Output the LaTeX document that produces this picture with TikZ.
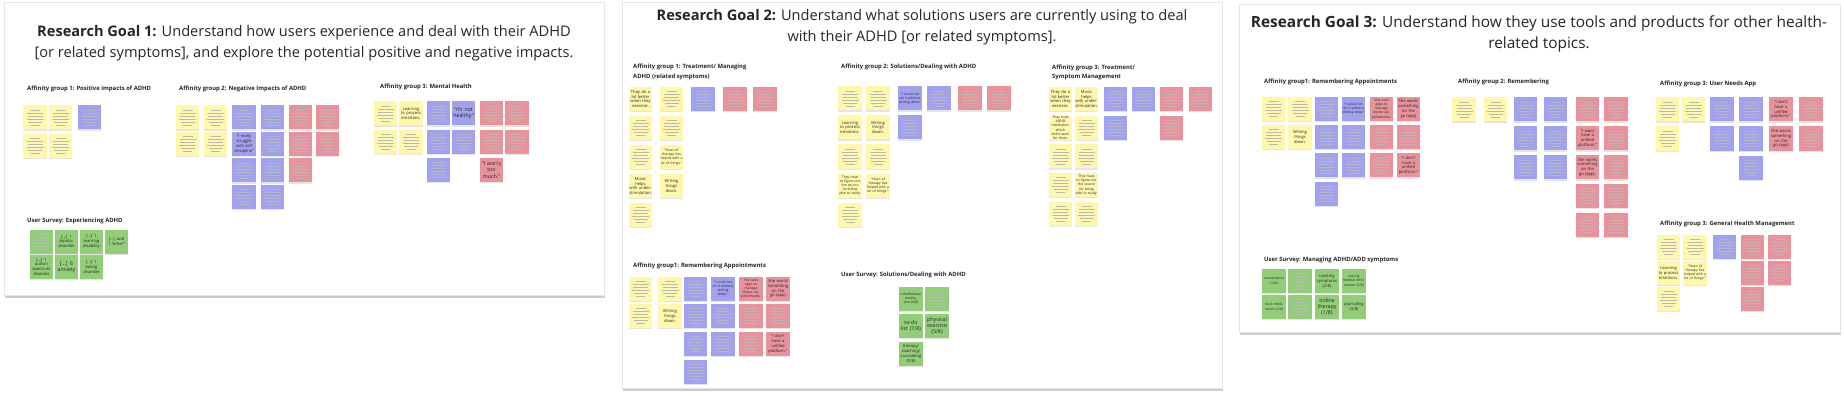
\documentclass[tikz,border=0pt]{standalone}
\usepackage{fontspec}
\setmainfont{Open Sans}
\usetikzlibrary{shadows}
\definecolor{noteYellow}{RGB}{255, 247, 172}
\definecolor{noteBlue}{RGB}{160, 162, 240}
\definecolor{notePink}{RGB}{232, 146, 156}
\definecolor{noteGreen}{RGB}{146, 205, 120}

\begin{document}
\begin{tikzpicture}[
    x=1pt, y=-1pt,
    board/.style={draw=black!10, fill=white, inner sep=0pt, outer sep=0pt,
        drop shadow={shadow xshift=1pt, shadow yshift=-2.5pt, opacity=.4}},
    goal/.style={align=center, text=black!85,
        font=\fontsize{14.6}{20.5}\selectfont},
    head/.style={anchor=west, align=left, inner sep=0pt, text=black!85,
        font=\bfseries\fontsize{5.9}{9.6}\selectfont},
    note/.style={minimum width=23.5pt, minimum height=24pt, inner sep=.5pt,
        text width=22.5pt, align=center, text=black!85,
        font=\fontsize{4.1}{4.9}\selectfont,
        drop shadow={shadow xshift=0pt, shadow yshift=-1.2pt, opacity=.2}},
    bigtext/.style={font=\fontsize{5.3}{6.3}\selectfont},
    smalltext/.style={font=\fontsize{3.4}{4.1}\selectfont},
    blurb/.style={note, path picture={
        \foreach \w/\h in {5/7.5, 8/4.5, 7.5/1.5, 8.5/-1.5, 7/-4.5, 4.5/-7.5}
            \draw[black!28, line width=.45pt]
                ([xshift=-\w pt, yshift=\h pt]path picture bounding box.center)
                -- ([xshift=\w pt, yshift=\h pt]path picture bounding box.center);
    }},
]

% ---- canvas ----
\useasboundingbox (0,0) rectangle (1844,401);
\fill[white] (0,0) rectangle (1844,401);

% ======== board 1 ========
\node[board, minimum width=600pt, minimum height=293pt] (board1) at (304,148.5) {};
\node[goal] (goal1) at (304,43) {\textbf{Research Goal 1:} Understand how users experience and deal with their ADHD\\{}[or related symptoms], and explore the potential positive and negative impacts.};

% affinity group 1
\node[head] (b1g1) at (27,89) {Affinity group 1: Positive impacts of ADHD};
\def\yo{117.5}\def\dy{28.5}
\foreach \c/\x/\clr/\rows in {1/35/noteYellow/{1,2}, 2/60.5/noteYellow/{1,2},
        3/89.5/noteBlue/{1}}
    \foreach \r in \rows
        \node[blurb, fill=\clr] (b1g1-\c-\r) at (\x, {\yo+(\r-1)*\dy}) {};

% affinity group 2
\node[head] (b1g2) at (179,89) {Affinity group 2: Negative Impacts of ADHD};
\def\yo{117.5}\def\dy{26.4}
\foreach \c/\x/\clr/\rows in {1/187.5/noteYellow/{1,2}, 2/215.5/noteYellow/{1,2},
        3/244/noteBlue/{1,3,4}, 4/272.5/noteBlue/{1,2,3,4},
        5/300.5/notePink/{1,2,3}, 6/327.5/notePink/{1,2}}
    \foreach \r in \rows
        \node[blurb, fill=\clr] (b1g2-\c-\r) at (\x, {\yo+(\r-1)*\dy}) {};
\node[note, fill=noteBlue] (b1g2-3-2) at (244, \yo+\dy)
    {“I really struggle with self discipline”};

% affinity group 3
\node[head] (b1g3) at (380,87) {Affinity group 3: Mental Health};
\def\yo{113.5}\def\dy{28.2}
\foreach \c/\x/\clr/\rows in {1/385.5/noteYellow/{1,2}, 2/411/noteYellow/{2},
        3/438.5/noteBlue/{1,2,3}, 4/463.5/noteBlue/{2},
        5/491.5/notePink/{1,2}, 6/517/notePink/{1,2}}
    \foreach \r in \rows
        \node[blurb, fill=\clr] (b1g3-\c-\r) at (\x, {\yo+(\r-1)*\dy}) {};
\node[note, fill=noteYellow] (b1g3-2-1) at (411, \yo) {Learning\\to process\\emotions.};
\node[note, bigtext, fill=noteBlue] (b1g3-4-1) at (463.5, \yo) {“It's not\\healthy”};
\node[note, bigtext, fill=notePink] (b1g3-5-3) at (491.5, \yo+2*\dy) {“I worry\\too\\much.”};

% user survey
\node[head] (b1s) at (27,221) {User Survey: Experiencing ADHD};
\def\yo{241.5}\def\dy{25.5}
\node[blurb, fill=noteGreen] (b1s-1-1) at (41.5, \yo) {};
\node[note, fill=noteGreen] (b1s-2-1) at (66.5, \yo) {[...] 1\\bipolar\\disorder};
\node[note, fill=noteGreen] (b1s-3-1) at (91.5, \yo) {[...] 1\\learning\\disability};
\node[note, fill=noteGreen] (b1s-4-1) at (116.5, \yo) {[...] and\\1 “other”};
\node[note, fill=noteGreen] (b1s-1-2) at (41.5, \yo+\dy) {[...] 1\\autism\\spectrum\\disorder};
\node[note, bigtext, fill=noteGreen] (b1s-2-2) at (66.5, \yo+\dy) {[...] 6\\anxiety};
\node[note, fill=noteGreen] (b1s-3-2) at (91.5, \yo+\dy) {[...] 1\\eating\\disorder};

% ======== board 2 ========
\node[board, minimum width=600pt, minimum height=386pt] (board2) at (922,195) {};
\node[goal] (goal2) at (922,27) {\textbf{Research Goal 2:} Understand what solutions users are currently using to deal\\with their ADHD [or related symptoms].};

% affinity group 1
\node[head] (b2g1) at (633,72) {Affinity group 1: Treatment/ Managing\\ADHD (related symptoms)};
\def\yo{99}\def\dy{29}
\foreach \c/\x/\clr/\rows in {1/640.5/noteYellow/{2,3,5}, 2/671.5/noteYellow/{1,2},
        3/703/noteBlue/{1}, 4/735/notePink/{1}, 5/765/notePink/{1}}
    \foreach \r in \rows
        \node[blurb, fill=\clr] (b2g1-\c-\r) at (\x, {\yo+(\r-1)*\dy}) {};
\node[note, fill=noteYellow] (b2g1-1-1) at (640.5, \yo) {They do a\\lot better\\when they\\exercise.};
\node[note, fill=noteYellow] (b2g1-1-4) at (640.5, \yo+3*\dy) {Music helps\\with under-\\stimulation.};
\node[note, smalltext, fill=noteYellow] (b2g1-2-3) at (671.5, \yo+2*\dy)
    {“Years of therapy has helped with a lot of things.”};
\node[note, fill=noteYellow] (b2g1-2-4) at (671.5, \yo+3*\dy) {Writing\\things\\down.};

% affinity group 2
\node[head] (b2g2) at (841,67) {Affinity group 2: Solutions/Dealing with ADHD};
\def\yo{98.5}\def\dy{29}
\foreach \c/\x/\clr/\rows in {1/850/noteYellow/{1,3,5}, 2/878/noteYellow/{1,3},
        3/910/noteBlue/{2}, 4/939/noteBlue/{1},
        5/970/notePink/{1}, 6/999/notePink/{1}}
    \foreach \r in \rows
        \node[blurb, fill=\clr] (b2g2-\c-\r) at (\x, {\yo+(\r-1)*\dy}) {};
\node[note, fill=noteYellow] (b2g2-1-2) at (850, \yo+\dy) {Learning\\to process\\emotions.};
\node[note, fill=noteYellow] (b2g2-2-2) at (878, \yo+\dy) {Writing\\things\\down.};
\node[note, smalltext, fill=noteBlue] (b2g2-3-1) at (910, \yo)
    {“I could not do it without writing down”};
\node[note, smalltext, fill=noteYellow] (b2g2-1-4) at (850, \yo+3*\dy)
    {They have to figure out the source for being able to study.};
\node[note, smalltext, fill=noteYellow] (b2g2-2-4) at (878, \yo+3*\dy)
    {“Years of therapy has helped with a lot of things.”};

% affinity group 3
\node[head] (b2g3) at (1052,72.5) {Affinity group 3: Treatment/\\Symptom Management};
\def\yo{99}\def\dy{28.7}
\foreach \c/\x/\clr/\rows in {1/1060.5/noteYellow/{3,4,5}, 2/1086.5/noteYellow/{2,3,5},
        3/1115.5/noteBlue/{1,2}, 4/1143.5/noteBlue/{1},
        5/1171.5/notePink/{1,2}, 6/1200.5/notePink/{1}}
    \foreach \r in \rows
        \node[blurb, fill=\clr] (b2g3-\c-\r) at (\x, {\yo+(\r-1)*\dy}) {};
\node[note, fill=noteYellow] (b2g3-1-1) at (1060.5, \yo) {They do a\\lot better\\when they\\exercise.};
\node[note, fill=noteYellow] (b2g3-2-1) at (1086.5, \yo) {Music helps\\with under-\\stimulation.};
\node[note, smalltext, fill=noteYellow] (b2g3-1-2) at (1060.5, \yo+\dy)
    {They tried ADHD medication which didn't work for them.};
\node[note, smalltext, fill=noteYellow] (b2g3-2-4) at (1086.5, \yo+3*\dy)
    {They have to figure out the source for being able to study.};

% affinity group 1, second row
\node[head] (b2g4) at (633,266) {Affinity group1: Remembering Appointments};
\def\yo{288.5}\def\dy{27.7}
\foreach \c/\x/\clr/\rows in {1/640.5/noteYellow/{1,2}, 2/670/noteYellow/{1},
        3/695.5/noteBlue/{1,2,3,4}, 4/723/noteBlue/{2,3},
        5/751/notePink/{2,3}, 6/778/notePink/{2}}
    \foreach \r in \rows
        \node[blurb, fill=\clr] (b2g4-\c-\r) at (\x, {\yo+(\r-1)*\dy}) {};
\node[note, fill=noteYellow] (b2g4-2-2) at (670, \yo+\dy) {Writing\\things\\down.};
\node[note, smalltext, fill=noteBlue] (b2g4-4-1) at (723, \yo)
    {“I could not do it without writing down.”};
\node[note, smalltext, fill=notePink] (b2g4-5-1) at (751, \yo)
    {She uses apps to manage doctor appointments.};
\node[note, fill=notePink] (b2g4-6-1) at (778, \yo) {She wants something on the go (app)};
\node[note, fill=notePink] (b2g4-6-3) at (778, \yo+2*\dy) {“I don't have a unified platform.”};

% user survey
\node[head] (b2s) at (841,275) {User Survey: Solutions/Dealing with ADHD};
\def\yo{298.5}\def\dy{27.5}
\node[blurb, fill=noteGreen] (b2s-2-1) at (937, \yo) {};
\node[note, smalltext, fill=noteGreen] (b2s-1-1) at (911, \yo) {mindfulness/ meditation (4/8)};
\node[note, bigtext, fill=noteGreen] (b2s-1-2) at (911, \yo+\dy) {to-do\\list (7/8)};
\node[note, bigtext, fill=noteGreen] (b2s-2-2) at (937, \yo+\dy) {physical\\exercise\\(5/8)};
\node[note, fill=noteGreen] (b2s-1-3) at (911, \yo+2*\dy) {therapy/ coaching/ counseling (5/8)};

% ======== board 3 ========
\node[board, minimum width=601pt, minimum height=328pt] (board3) at (1539.5,168) {};
\node[goal, font=\fontsize{15.4}{20.5}\selectfont] (goal3) at (1539,34) {\textbf{Research Goal 3:} Understand how they use tools and products for other health-\\related topics.};

% affinity group 1
\node[head] (b3g1) at (1264,82) {Affinity group1: Remembering Appointments};
\def\yo{109}\def\dy{28.2}
\foreach \c/\x/\clr/\rows in {1/1273.5/noteYellow/{1,2}, 2/1300/noteYellow/{1},
        3/1326.5/noteBlue/{1,2,3,4}, 4/1353.5/noteBlue/{2,3},
        5/1381.5/notePink/{2,3}, 6/1408.5/notePink/{2}}
    \foreach \r in \rows
        \node[blurb, fill=\clr] (b3g1-\c-\r) at (\x, {\yo+(\r-1)*\dy}) {};
\node[note, fill=noteYellow] (b3g1-2-2) at (1300, \yo+\dy) {Writing\\things\\down.};
\node[note, smalltext, fill=noteBlue] (b3g1-4-1) at (1353.5, \yo)
    {“I could not do it without writing down”};
\node[note, smalltext, fill=notePink] (b3g1-5-1) at (1381.5, \yo)
    {She uses apps to manage doctor appointments.};
\node[note, fill=notePink] (b3g1-6-1) at (1408.5, \yo) {She wants something on the go (app)};
\node[note, fill=notePink] (b3g1-6-3) at (1408.5, \yo+2*\dy) {“I don't have a unified platform.”};

% affinity group 2
\node[head] (b3g2) at (1458,82) {Affinity group 2: Remembering};
\def\yo{109.5}\def\dy{28.9}
\foreach \c/\x/\clr/\rows in {1/1464/noteYellow/{1}, 2/1495.5/noteYellow/{1},
        3/1525.5/noteBlue/{1,2,3}, 4/1555.5/noteBlue/{1,2,3},
        5/1587.5/notePink/{1,4,5}, 6/1616/notePink/{1,2,3,4,5}}
    \foreach \r in \rows
        \node[blurb, fill=\clr] (b3g2-\c-\r) at (\x, {\yo+(\r-1)*\dy}) {};
\node[note, fill=notePink] (b3g2-5-2) at (1587.5, \yo+\dy) {“I want have a unified platform.”};
\node[note, fill=notePink] (b3g2-5-3) at (1587.5, \yo+2*\dy) {She wants something on the go (app).};

% affinity group 3
\node[head] (b3g3) at (1660,84) {Affinity group 3: User Needs App};
\def\yo{109.5}\def\dy{29}
\foreach \c/\x/\clr/\rows in {1/1667.5/noteYellow/{1,2}, 2/1693.5/noteYellow/{1},
        3/1722/noteBlue/{1,2}, 4/1751/noteBlue/{1,2,3}, 6/1811/notePink/{1,2}}
    \foreach \r in \rows
        \node[blurb, fill=\clr] (b3g3-\c-\r) at (\x, {\yo+(\r-1)*\dy}) {};
\node[note, fill=notePink] (b3g3-5-1) at (1781, \yo) {“I don't have a unified platform.”};
\node[note, fill=notePink] (b3g3-5-2) at (1781, \yo+\dy) {She wants something on the go (app)};

% affinity group 3, general health
\node[head] (b3g4) at (1660,224) {Affinity group 3: General Health Management};
\def\yo{246.5}\def\dy{26.3}
\foreach \c/\x/\clr/\rows in {1/1668.5/noteYellow/{1,3}, 2/1695/noteYellow/{1},
        3/1724.5/noteBlue/{1}, 4/1752.5/notePink/{1,2,3}, 5/1779.5/notePink/{1,2}}
    \foreach \r in \rows
        \node[blurb, fill=\clr] (b3g4-\c-\r) at (\x, {\yo+(\r-1)*\dy}) {};
\node[note, fill=noteYellow] (b3g4-1-2) at (1668.5, \yo+\dy) {Learning\\to process\\emotions.};
\node[note, smalltext, fill=noteYellow] (b3g4-2-2) at (1695, \yo+\dy)
    {“Years of therapy has helped with a lot of things.”};

% user survey
\node[head] (b3s) at (1264,260) {User Survey: Managing ADHD/ADD symptoms};
\def\yo{281}\def\dy{26}
\foreach \r in {1,2}
    \node[blurb, fill=noteGreen] (b3s-2-\r) at (1300, {\yo+(\r-1)*\dy}) {};
\node[note, smalltext, fill=noteGreen] (b3s-1-1) at (1274, \yo) {convenience (1/8)};
\node[note, fill=noteGreen] (b3s-3-1) at (1327, \yo) {tracking symptoms (2/8)};
\node[note, smalltext, fill=noteGreen] (b3s-4-1) at (1354, \yo) {storing medical information (2/8)};
\node[note, smalltext, fill=noteGreen] (b3s-1-2) at (1274, \yo+\dy) {track medication (1/8)};
\node[note, bigtext, fill=noteGreen] (b3s-3-2) at (1327, \yo+\dy) {online\\therapy\\(1/8)};
\node[note, fill=noteGreen] (b3s-4-2) at (1354, \yo+\dy) {journaling (3/8)};

\end{tikzpicture}
\end{document}
